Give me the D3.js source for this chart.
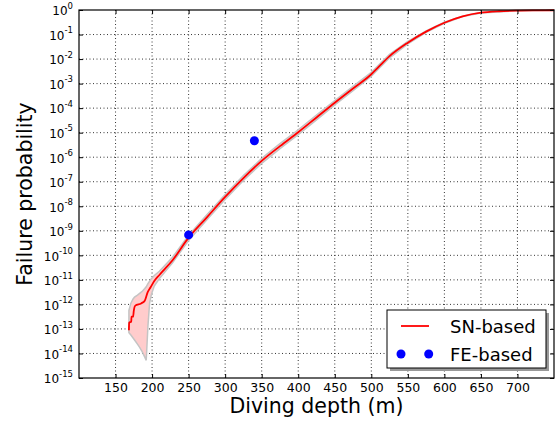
<!DOCTYPE html>
<html>
<head>
<meta charset="utf-8">
<script src="https://cdn.jsdelivr.net/npm/d3@7"></script>
<style>
  html, body { margin: 0; padding: 0; background: #fff; }
  svg { display: block; font-family: "DejaVu Sans", sans-serif; }
</style>
</head>
<body>
<div id="chart"></div>
<script>
// =========================
// data (exponents are log10 of failure probability)
// =========================
const snDepth = [168.3, 168.6, 171.5, 171.8, 174, 175, 177, 185, 190, 194, 198, 203, 210, 228,
  250, 275, 300, 325, 350, 375, 400, 425, 450, 475, 500, 510, 525, 550, 575, 600, 625, 650, 675, 700, 725, 750];
const snExp = [-13.05, -12.75, -12.7, -12.5, -12.5, -12.25, -12.05, -11.96, -11.85, -11.5, -11.3, -11.05, -10.8, -10.2,
  -9.28, -8.45, -7.62, -6.85, -6.15, -5.55, -4.98, -4.38, -3.78, -3.2, -2.62, -2.32, -1.88, -1.33, -0.88, -0.52, -0.26, -0.11, -0.05, -0.025, -0.015, -0.01];

const bandDepth = [168.3, 171, 174, 176, 180, 183, 186, 190, 192, 194.3, 196.6, 199, 203, 210, 228,
  250, 275, 300, 325, 350, 375, 400, 425, 450, 475, 500, 525, 550, 575, 600, 625, 650, 700, 750];
const bandHighExp = [-12.25, -11.95, -11.78, -11.7, -11.62, -11.55, -11.48, -11.35, -11.28, -11.15, -11.05, -10.95, -10.82, -10.65, -10.08,
  -9.18, -8.35, -7.52, -6.75, -6.05, -5.45, -4.88, -4.28, -3.69, -3.11, -2.54, -1.81, -1.28, -0.85, -0.5, -0.25, -0.1, -0.02, -0.005];
const bandLowExp = [-13.15, -13.25, -13.37, -13.45, -13.62, -13.75, -13.9, -14.15, -14.28, -12.9, -11.95, -11.6, -11.25, -10.95, -10.3,
  -9.4, -8.55, -7.72, -6.95, -6.25, -5.65, -5.08, -4.48, -3.87, -3.29, -2.7, -1.95, -1.38, -0.91, -0.54, -0.27, -0.12, -0.03, -0.015];

const feDepth = [250, 340];
const feProb = [6.8e-10, 4.7e-6];

const xTicks = [150, 200, 250, 300, 350, 400, 450, 500, 550, 600, 650, 700];
const yTickExp = [0, -1, -2, -3, -4, -5, -6, -7, -8, -9, -10, -11, -12, -13, -14, -15];

const width = 558, height = 421;
const L = 79, R = 554, T = 10, B = 378;

const svg = d3.select("#chart").append("svg")
  .attr("width", width).attr("height", height);

const x = d3.scaleLinear().domain([100, 750]).range([L, R]);
const y = d3.scaleLog().domain([1e-15, 1]).range([B, T]);

// grid
const grid = svg.append("g")
  .attr("stroke", "#000").attr("stroke-width", 0.8).attr("stroke-dasharray", "1,2.5");
grid.selectAll("line.gx").data(xTicks).enter().append("line")
  .attr("x1", d => x(d)).attr("x2", d => x(d)).attr("y1", T).attr("y2", B);
grid.selectAll("line.gy").data(yTickExp.filter(e => e !== 0 && e !== -15)).enter().append("line")
  .attr("x1", L).attr("x2", R).attr("y1", d => y(10 ** d)).attr("y2", d => y(10 ** d));

// confidence band
const band = bandDepth.map((d, i) => ({ d, lo: 10 ** bandLowExp[i], hi: 10 ** bandHighExp[i] }));
svg.append("path")
  .datum(band)
  .attr("d", d3.area().x(d => x(d.d)).y0(d => y(d.lo)).y1(d => y(d.hi)))
  .attr("fill", "#ffcccc")
  .attr("stroke", "#c4c4c4")
  .attr("stroke-width", 1.5);

// SN-based line
const sn = snDepth.map((d, i) => ({ d, p: 10 ** snExp[i] }));
svg.append("path")
  .datum(sn)
  .attr("d", d3.line().x(d => x(d.d)).y(d => y(d.p)).curve(d3.curveMonotoneX))
  .attr("fill", "none")
  .attr("stroke", "red")
  .attr("stroke-width", 1.8);

// FE-based points
svg.selectAll("circle.fe").data(feDepth).enter().append("circle")
  .attr("cx", d => x(d)).attr("cy", (d, i) => y(feProb[i]))
  .attr("r", 4.5).attr("fill", "blue");

// axes (ticks inward, all four sides)
const xb = svg.append("g").attr("transform", `translate(0,${B})`)
  .call(d3.axisBottom(x).tickValues(xTicks).tickSizeInner(-4).tickSizeOuter(0).tickPadding(5));
xb.selectAll("text").attr("font-size", 12.5).attr("fill", "#000").attr("font-family", "DejaVu Sans");
svg.append("g").attr("transform", `translate(0,${T})`)
  .call(d3.axisTop(x).tickValues(xTicks).tickSizeInner(-4).tickSizeOuter(0).tickFormat(""));
svg.append("g").attr("transform", `translate(${L},0)`)
  .call(d3.axisLeft(y).tickValues(yTickExp.map(e => 10 ** e)).tickSizeInner(-4).tickSizeOuter(0).tickFormat(""));
svg.append("g").attr("transform", `translate(${R},0)`)
  .call(d3.axisRight(y).tickValues(yTickExp.map(e => 10 ** e)).tickSizeInner(-4).tickSizeOuter(0).tickFormat(""));
svg.selectAll(".domain").remove();
svg.selectAll(".tick line").attr("stroke", "#000");

svg.append("rect")
  .attr("x", L).attr("y", T).attr("width", R - L).attr("height", B - T)
  .attr("fill", "none").attr("stroke", "#000").attr("stroke-width", 1.2);

// y tick labels: 10^e
const yl = svg.append("g").selectAll("text").data(yTickExp).enter().append("text")
  .attr("x", 73).attr("y", d => y(10 ** d) + 5.3)
  .attr("text-anchor", "end").attr("font-size", 12).attr("fill", "#000");
yl.append("tspan").text("10");
yl.append("tspan").attr("dy", -6.5).attr("font-size", 8.5).text(d => d === 0 ? "0" : "-" + (-d));

// axis labels
svg.append("text")
  .attr("x", (L + R) / 2).attr("y", 413)
  .attr("text-anchor", "middle").attr("font-size", 20.5)
  .text("Diving depth (m)");
svg.append("text")
  .attr("transform", `translate(32,${(T + B) / 2}) rotate(-90)`)
  .attr("text-anchor", "middle").attr("font-size", 20.5)
  .text("Failure probability");

// legend
const lg = svg.append("g");
lg.append("rect").attr("x", 390).attr("y", 313).attr("width", 159).attr("height", 58).attr("fill", "#999");
lg.append("rect").attr("x", 387).attr("y", 310).attr("width", 159).attr("height", 58)
  .attr("fill", "#fff").attr("stroke", "#000").attr("stroke-width", 1);
lg.append("line").attr("x1", 401).attr("x2", 429).attr("y1", 326).attr("y2", 326)
  .attr("stroke", "red").attr("stroke-width", 1.8);
lg.selectAll("circle").data([401, 428.7]).enter().append("circle")
  .attr("cx", d => d).attr("cy", 354).attr("r", 4.5).attr("fill", "blue");
lg.append("text").attr("x", 450).attr("y", 333).attr("font-size", 18).text("SN-based");
lg.append("text").attr("x", 450).attr("y", 361).attr("font-size", 18).text("FE-based");
</script>
</body>
</html>
